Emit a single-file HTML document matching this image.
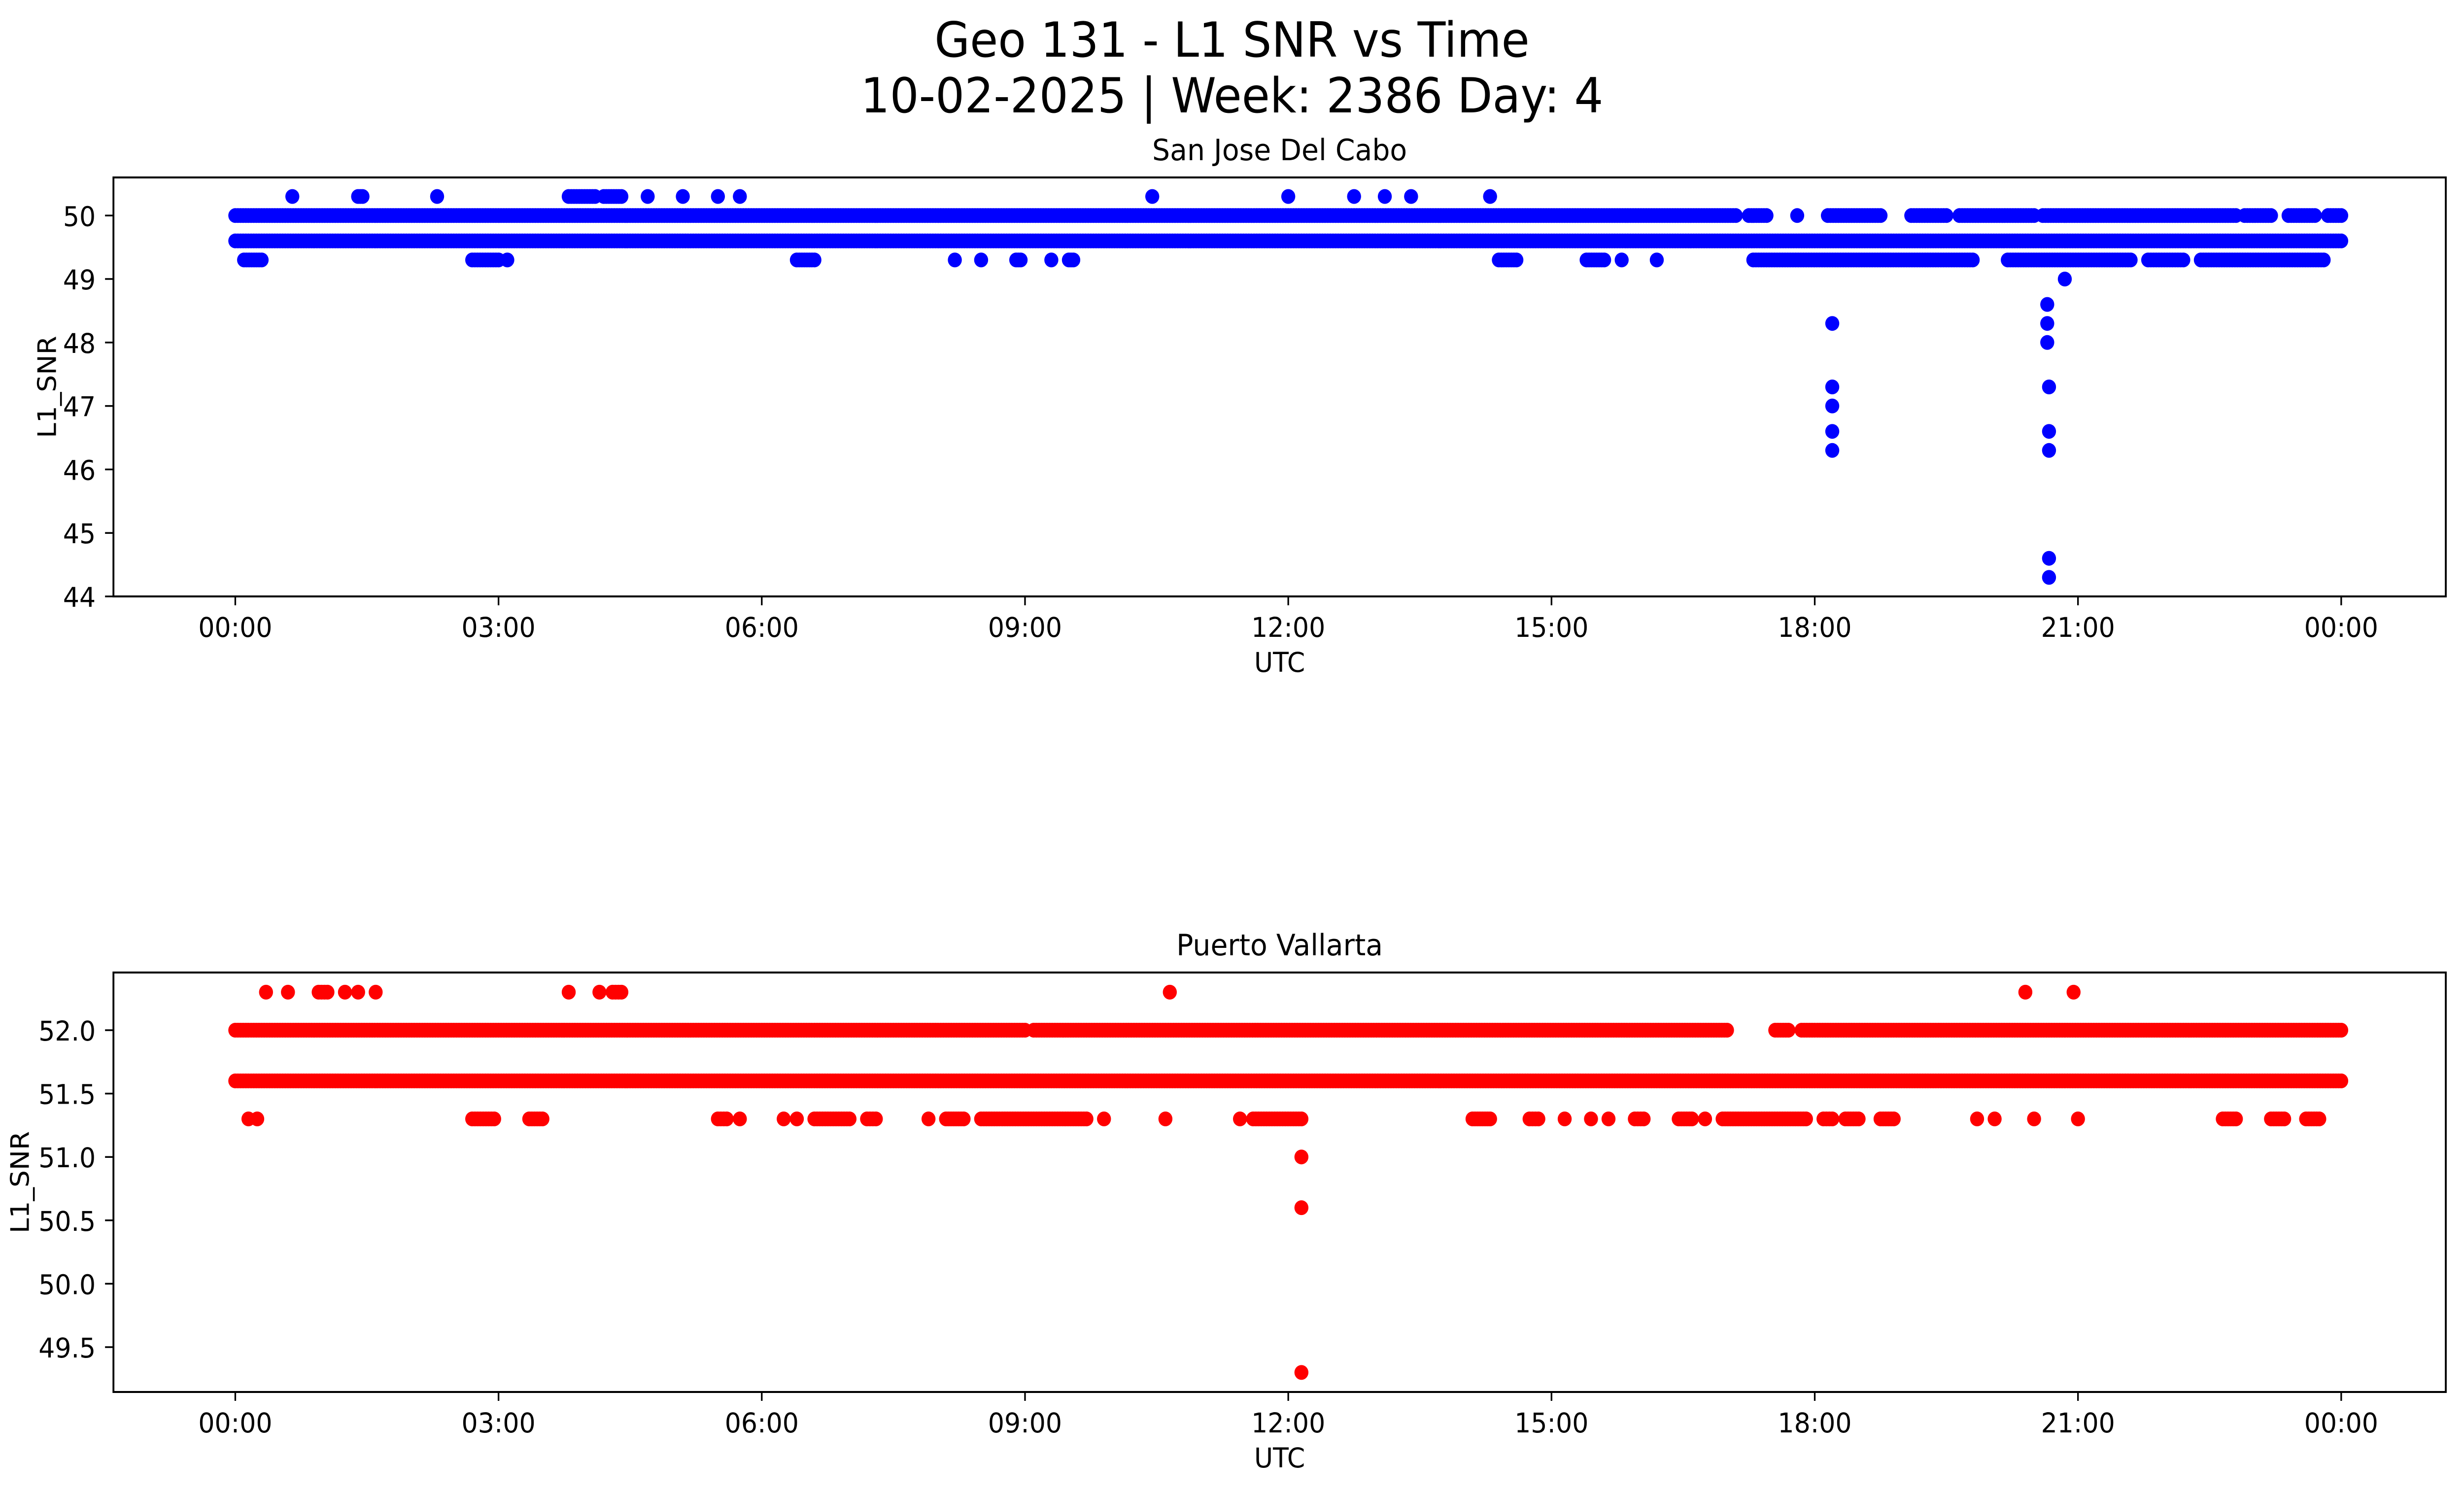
<!DOCTYPE html>
<html><head><meta charset="utf-8"><style>
html,body{margin:0;padding:0;background:#fff;overflow:hidden;width:100%;height:100%}
svg{display:block;width:100vw;height:100vh}
text{font-family:"DejaVu Sans","Liberation Sans",sans-serif;fill:#000}
</style></head><body>
<svg id="fig" viewBox="0 0 5278 3033" preserveAspectRatio="none" xmlns="http://www.w3.org/2000/svg">
<rect width="5278" height="3033" fill="#fff"/>
<text x="2639" y="115" font-size="98" text-anchor="middle">Geo 131 - L1 SNR vs Time</text>
<text x="2639" y="228" font-size="98" text-anchor="middle">10-02-2025 | Week: 2386 Day: 4</text>
<g id="p1"></g>
<g id="p2"></g>
</svg>
<script>
// Runs: [startHour, endHour, snr]; single points have start == end
const topRuns = [
 [0,24,49.6],
 [0,17.1,50],[17.25,17.45,50],[17.8,17.8,50],[18.15,18.75,50],[19.1,19.5,50],[19.65,20.5,50],[20.6,22.8,50],[22.9,23.2,50],[23.4,23.7,50],[23.85,24,50],
 [0.1,0.3,49.3],[2.7,3.0,49.3],[3.1,3.1,49.3],[6.4,6.6,49.3],[8.2,8.2,49.3],[8.5,8.5,49.3],[8.9,8.95,49.3],[9.3,9.3,49.3],[9.5,9.55,49.3],[14.4,14.6,49.3],[15.4,15.6,49.3],[15.8,15.8,49.3],[16.2,16.2,49.3],[17.3,19.8,49.3],[20.2,21.6,49.3],[21.8,22.2,49.3],[22.4,23.8,49.3],
 [0.65,0.65,50.3],[1.4,1.45,50.3],[2.3,2.3,50.3],[3.8,4.1,50.3],[4.2,4.4,50.3],[4.7,4.7,50.3],[5.1,5.1,50.3],[5.5,5.5,50.3],[5.75,5.75,50.3],[10.45,10.45,50.3],[12.0,12.0,50.3],[12.75,12.75,50.3],[13.1,13.1,50.3],[13.4,13.4,50.3],[14.3,14.3,50.3],
 [18.2,18.2,48.3],[18.2,18.2,47.3],[18.2,18.2,47.0],[18.2,18.2,46.6],[18.2,18.2,46.3],
 [20.65,20.65,48.6],[20.65,20.65,48.3],[20.65,20.65,48.0],[20.67,20.67,47.3],[20.67,20.67,46.6],[20.67,20.67,46.3],[20.67,20.67,44.6],[20.67,20.67,44.3],[20.85,20.85,49.0]
];
const botRuns = [
 [0,24,51.6],
 [0,9.0,52.0],[9.1,17.0,52.0],[17.55,17.7,52.0],[17.85,24,52.0],
 [0.35,0.35,52.3],[0.6,0.6,52.3],[0.95,1.05,52.3],[1.25,1.25,52.3],[1.4,1.4,52.3],[1.6,1.6,52.3],[3.8,3.8,52.3],[4.15,4.15,52.3],[4.3,4.4,52.3],[10.65,10.65,52.3],[20.4,20.4,52.3],[20.95,20.95,52.3],
 [0.15,0.15,51.3],[0.25,0.25,51.3],[2.7,2.95,51.3],[3.35,3.5,51.3],[5.5,5.6,51.3],[5.75,5.75,51.3],[6.25,6.25,51.3],[6.4,6.4,51.3],[6.6,7.0,51.3],[7.2,7.3,51.3],[7.9,7.9,51.3],[8.1,8.3,51.3],[8.5,9.7,51.3],[9.9,9.9,51.3],[10.6,10.6,51.3],[11.45,11.45,51.3],[11.6,12.15,51.3],[14.1,14.3,51.3],[14.75,14.85,51.3],[15.15,15.15,51.3],[15.45,15.45,51.3],[15.65,15.65,51.3],[15.95,16.05,51.3],[16.45,16.6,51.3],[16.75,16.75,51.3],[16.95,17.9,51.3],[18.1,18.2,51.3],[18.35,18.5,51.3],[18.75,18.9,51.3],[19.85,19.85,51.3],[20.05,20.05,51.3],[20.5,20.5,51.3],[21.0,21.0,51.3],[22.65,22.8,51.3],[23.2,23.35,51.3],[23.6,23.75,51.3],
 [12.15,12.15,51.0],[12.15,12.15,50.6],[12.15,12.15,49.3]
];
const xTickLabels = ["00:00","03:00","06:00","09:00","12:00","15:00","18:00","21:00","00:00"];
const topYTicks = [44,45,46,47,48,49,50];
const botYTicks = [49.5,50.0,50.5,51.0,51.5,52.0];

const NS="http://www.w3.org/2000/svg";
function mk(parent,tag,attrs){const e=document.createElementNS(NS,tag);for(const k in attrs)e.setAttribute(k,attrs[k]);parent.appendChild(e);return e;}

function panel(g,cfg){
  const L=243,R=5239,T=cfg.top,B=cfg.bottom;
  const x0=504,x1=5015;
  const xs=h=>x0+(x1-x0)*h/24;
  const ys=v=>B-(v-cfg.ymin)/(cfg.ymax-cfg.ymin)*(B-T);
  const t=mk(g,'text',{x:(L+R)/2,y:T-35,'font-size':60,'text-anchor':'middle'});t.textContent=cfg.title;
  
  
  const pts=mk(g,'g',{fill:cfg.color});
  
  
  cfg.runs.forEach(r=>{
    const n=Math.max(0,Math.round((r[1]-r[0])/0.03));
    for(let i=0;i<=n;i++){
      const h=n?r[0]+(r[1]-r[0])*i/n:r[0];
      const c=mk(pts,'circle',{cx:xs(h).toFixed(1),cy:ys(r[2]).toFixed(1),r:15});
      
      
    }
  });
  const fr=mk(g,'rect',{x:L,y:T,width:R-L,height:B-T,fill:'none',stroke:'#000','stroke-width':4});
  
  
  xTickLabels.forEach((lab,i)=>{
    const x=xs(i*3);
    mk(g,'line',{x1:x,x2:x,y1:B,y2:B+18,stroke:'#000','stroke-width':3.5});
    const tx=mk(g,'text',{x:x,y:B+82,'font-size':55,'text-anchor':'middle'});tx.textContent=lab;
    
    
  });
  cfg.yticks.forEach(v=>{
    const y=ys(v);
    mk(g,'line',{x1:L-18,x2:L,y1:y,y2:y,stroke:'#000','stroke-width':3.5});
    const ty=mk(g,'text',{x:205,y:y+21,'font-size':55,'text-anchor':'end'});ty.textContent=cfg.fmt(v);
    
    
  });
  const xl=mk(g,'text',{x:(L+R)/2,y:B+153,'font-size':55,'text-anchor':'middle'});xl.textContent='UTC';
  
  
  const cy=(T+B)/2;
  const yl=mk(g,'text',{x:cfg.ylx,y:cy,'font-size':55,'text-anchor':'middle',transform:`rotate(-90 ${cfg.ylx} ${cy})`});yl.textContent='L1_SNR';
  
  
}
panel(document.getElementById('p1'),{top:360,bottom:1210,ymin:44,ymax:50.6,runs:topRuns,color:'#0000ff',title:'San Jose Del Cabo',yticks:topYTicks,fmt:v=>String(v),ylx:120});
panel(document.getElementById('p2'),{top:1973,bottom:2824,ymin:49.146,ymax:52.455,runs:botRuns,color:'#ff0000',title:'Puerto Vallarta',yticks:botYTicks,fmt:v=>v.toFixed(1),ylx:62});
</script>
</body></html>
